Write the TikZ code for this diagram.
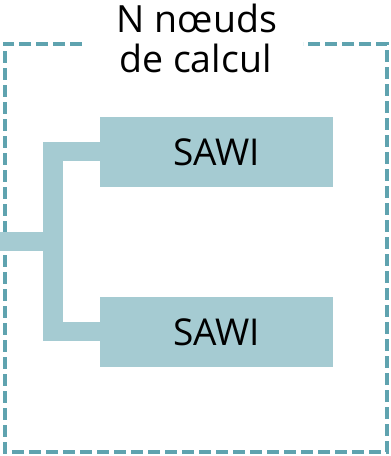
\documentclass[tikz,border=0pt]{standalone}
\usepackage{fontspec}
\setmainfont{Open Sans}
\definecolor{boxfill}{HTML}{A5CBD2}
\definecolor{dashcol}{HTML}{5FA3AF}
\begin{document}
\begin{tikzpicture}[x=1pt,y=1pt,
  sawibox/.style={fill=boxfill, minimum width=233pt, minimum height=70pt, inner sep=0pt, font=\fontsize{37}{40}\selectfont},
  titletext/.style={font=\fontsize{37.5}{40}\selectfont, anchor=base},
  link/.style={draw=boxfill, line width=19.5pt},
  frame/.style={draw=dashcol, line width=4pt, dash pattern=on 12pt off 5pt}]
\useasboundingbox (0,0) rectangle (391,456);
\draw[frame] (82,412) -- (4.5,412) -- (4.5,4) -- (387,4) -- (387,412) -- (303,412);
\node[titletext] (title) at (197,423) {N nœuds};
\node[titletext] (title2) at (195.5,383) {de calcul};
\node[sawibox] (s1) at (216.5,304) {SAWI};
\node[sawibox] (s2) at (216.5,124) {SAWI};
\coordinate (in) at (0,214.5);
\coordinate (mid) at (53,214.5);
\draw[link] (in) -- (mid);
\draw[link] ([yshift=0.5pt]s1.west) -- ++(-47,0) |- ([yshift=0.5pt]s2.west);
\end{tikzpicture}
\end{document}
